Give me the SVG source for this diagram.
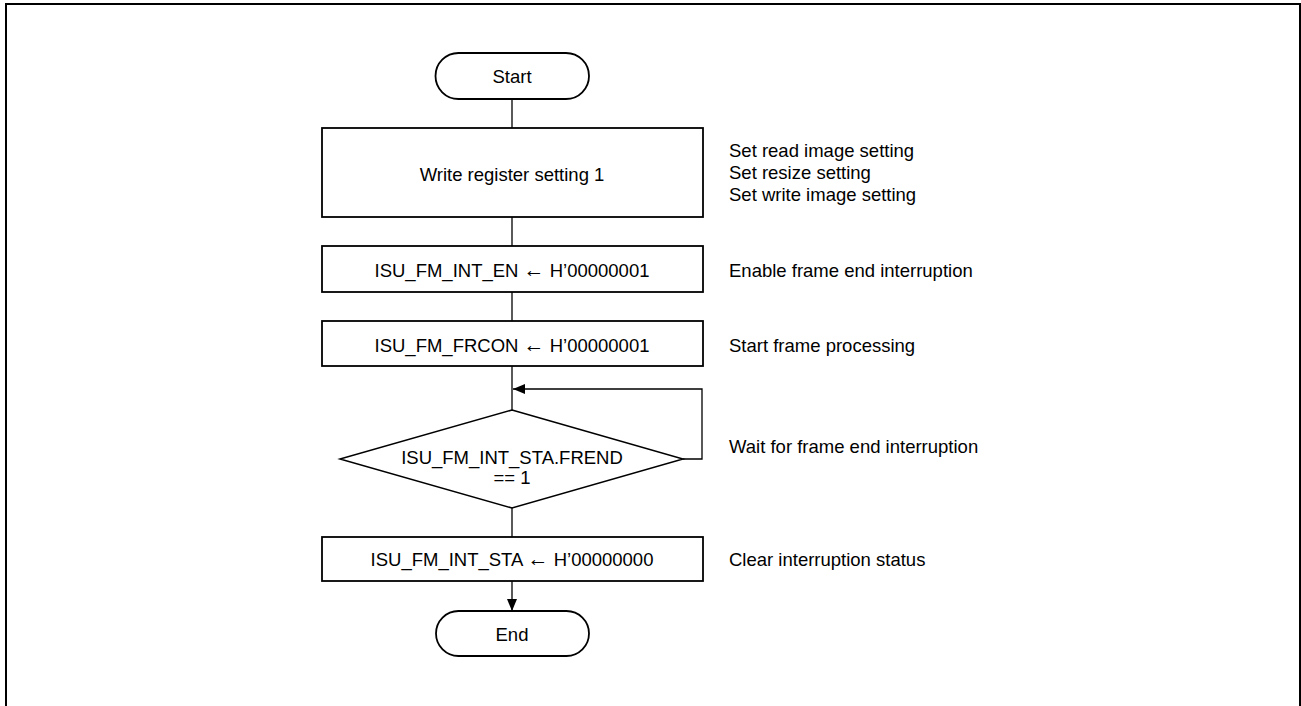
<svg xmlns="http://www.w3.org/2000/svg" width="1301" height="706" viewBox="0 0 1301 706">
<style>
.shape{fill:#fff;stroke:#000;stroke-width:1.8}
.dia{fill:#fff;stroke:#000;stroke-width:1.5}
.conn{fill:none;stroke:#000;stroke-width:1.3}
text{font-family:"Liberation Sans",Arial,sans-serif;font-size:18.5px;fill:#000}
.c{text-anchor:middle}
.ar{font-size:21px}
</style>
<defs>
<marker id="ah" viewBox="0 0 12 10" refX="12" refY="5" markerWidth="12" markerHeight="10" markerUnits="userSpaceOnUse" orient="auto">
<path d="M0,0 L12,5 L0,10 Z" fill="#000"/>
</marker>
</defs>
<rect x="6" y="4" width="1294" height="720" fill="none" stroke="#000" stroke-width="2"/>
<g id="connectors">
<line class="conn" x1="512" y1="99" x2="512" y2="128"/>
<line class="conn" x1="512" y1="217" x2="512" y2="246"/>
<line class="conn" x1="512" y1="292" x2="512" y2="321"/>
<line class="conn" x1="512" y1="366" x2="512" y2="410"/>
<polyline class="conn" points="683,459 702,459 702,389 513,389" marker-end="url(#ah)"/>
<line class="conn" x1="512" y1="508" x2="512" y2="537"/>
<line class="conn" x1="512" y1="581" x2="512" y2="611" marker-end="url(#ah)"/>
</g>
<g id="start">
<rect class="shape" x="435.5" y="53" width="153.5" height="46" rx="23" ry="23"/>
<text class="c" x="512" y="83">Start</text>
</g>
<g id="box1">
<rect class="shape" x="322" y="128" width="381" height="89"/>
<text class="c" x="512" y="181">Write register setting 1</text>
</g>
<g id="note1">
<text x="729" y="157">Set read image setting</text>
<text x="729" y="179">Set resize setting</text>
<text x="729" y="201">Set write image setting</text>
</g>
<g id="box2">
<rect class="shape" x="322" y="246" width="381" height="46"/>
<text class="c" x="512" y="277">ISU_FM_INT_EN <tspan class="ar">←</tspan> H’00000001</text>
</g>
<g id="note2"><text x="729" y="277">Enable frame end interruption</text></g>
<g id="box3">
<rect class="shape" x="322" y="321" width="381" height="45"/>
<text class="c" x="512" y="352">ISU_FM_FRCON <tspan class="ar">←</tspan> H’00000001</text>
</g>
<g id="note3"><text x="729" y="352">Start frame processing</text></g>
<g id="decision">
<polygon class="dia" points="512,410 683,459 512,508 340,459"/>
<text class="c" x="512" y="464">ISU_FM_INT_STA.FREND</text>
<text class="c" x="512" y="484">== 1</text>
</g>
<g id="note4"><text x="729" y="453">Wait for frame end interruption</text></g>
<g id="box4">
<rect class="shape" x="322" y="537" width="381" height="44"/>
<text class="c" x="512" y="566">ISU_FM_INT_STA <tspan class="ar">←</tspan> H’00000000</text>
</g>
<g id="note5"><text x="729" y="566">Clear interruption status</text></g>
<g id="end">
<rect class="shape" x="436" y="611" width="153" height="45" rx="22.5" ry="22.5"/>
<text class="c" x="512" y="641">End</text>
</g>
</svg>
